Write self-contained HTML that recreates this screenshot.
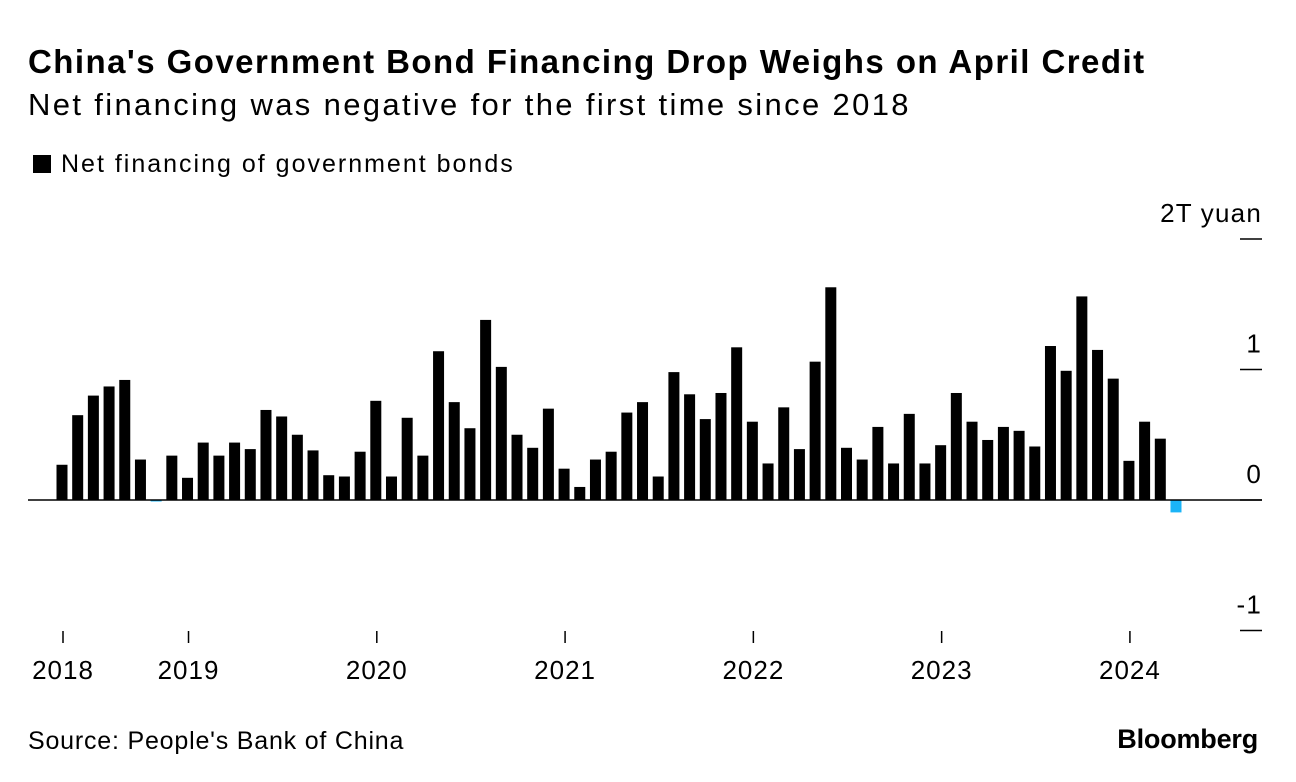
<!DOCTYPE html>
<html><head><meta charset="utf-8"><style>
body{margin:0;background:#fff;font-family:"Liberation Sans",Arial,sans-serif;}
#wrap{position:relative;width:1296px;height:782px;overflow:hidden;}
.t{position:absolute;white-space:nowrap;color:#000;}
</style></head><body><div id="wrap">
<div class="t" style="left:28px;top:43px;font-size:33px;font-weight:bold;letter-spacing:1.45px">China's Government Bond Financing Drop Weighs on April Credit</div>
<div class="t" style="left:28px;top:87px;font-size:31px;letter-spacing:2.35px">Net financing was negative for the first time since 2018</div>
<div class="t" style="left:33px;top:150px;font-size:25px;letter-spacing:2px"><span style="display:inline-block;width:18px;height:18px;background:#000;margin-right:10px;vertical-align:-1px"></span>Net financing of government bonds</div>
<svg id="chart" width="1296" height="782" style="position:absolute;left:0;top:0"></svg>
<div class="t" style="left:28px;top:727px;font-size:25px;letter-spacing:0.8px">Source: People's Bank of China</div>
<div class="t" style="right:38px;top:724px;font-size:27px;font-weight:bold;letter-spacing:-0.2px">Bloomberg</div>
</div>
<script>
const values=[0.27,0.65,0.80,0.87,0.92,0.31,-0.01,
0.34,0.17,0.44,0.34,0.44,0.39,0.69,0.64,0.50,0.38,0.19,0.18,
0.37,0.76,0.18,0.63,0.34,1.14,0.75,0.55,1.38,1.02,0.50,0.40,
0.70,0.24,0.10,0.31,0.37,0.67,0.75,0.18,0.98,0.81,0.62,0.82,
1.17,0.60,0.28,0.71,0.39,1.06,1.63,0.40,0.31,0.56,0.28,0.66,
0.28,0.42,0.82,0.60,0.46,0.56,0.53,0.41,1.18,0.99,1.56,1.15,0.93,
0.30,0.60,0.47,-0.095];
const yTicks=[2,1,0,-1];
const yTickLabels=["2T yuan","1","0","-1"];
const yearLabels=["2018","2019","2020","2021","2022","2023","2024"];
const yearStartIdx=[0,8,20,32,44,56,68];
const NS="http://www.w3.org/2000/svg";
const svg=document.getElementById('chart');
const x0=62,step=15.69,bw=11;
const yScale=v=>500-v*130.5;
const xScale=i=>x0+i*step;
function mk(tag,attrs){const e=document.createElementNS(NS,tag);for(const k in attrs)e.setAttribute(k,attrs[k]);svg.appendChild(e);return e;}
values.forEach((v,i)=>{
 const y=yScale(Math.max(v,0)),h=Math.abs(yScale(v)-yScale(0));
 const r=mk('rect',{x:xScale(i)-bw/2,y:y,width:bw,height:Math.max(h,1.5),fill:v<0?'#1bb4f7':'#000'});
 
 
});
const base=mk('line',{x1:28,x2:1262,y1:yScale(0),y2:yScale(0),stroke:'#000','stroke-width':1.5});


yTicks.forEach((t,j)=>{
 const y=yScale(t);
 const l=mk('line',{x1:1240,x2:1262,y1:y,y2:y,stroke:'#000','stroke-width':1.5});
 
 
 const tx=mk('text',{x:1262,y:y-17,'text-anchor':'end','font-size':26,'letter-spacing':1.2,'font-family':'Liberation Sans, Arial, sans-serif',fill:'#000'});
 tx.textContent=yTickLabels[j];
 
 
});
yearLabels.forEach((lab,j)=>{
 const x=xScale(yearStartIdx[j])+1;
 const l=mk('line',{x1:x,x2:x,y1:631,y2:643,stroke:'#000','stroke-width':1.5});
 
 
 const tx=mk('text',{x:x,y:679,'text-anchor':'middle','font-size':26,'letter-spacing':1,'font-family':'Liberation Sans, Arial, sans-serif',fill:'#000'});
 tx.textContent=lab;
 
 
});
</script></body></html>
